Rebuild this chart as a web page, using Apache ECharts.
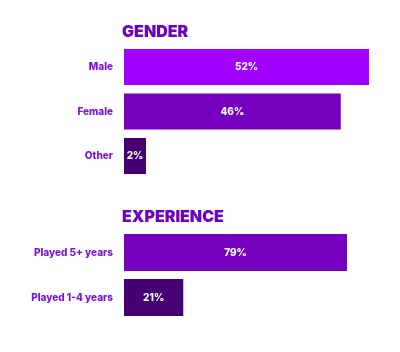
<!DOCTYPE html>
<html>
<head>
    <meta charset="utf-8">
    <title>Gender / Experience</title>
    <script src="https://cdn.jsdelivr.net/npm/echarts@6/dist/echarts.min.js"></script>
    <style>
        html, body { margin: 0; padding: 0; background: #fff; }
    </style>
</head>
<body>
    <div id="main" style="width: 400px;height:352px;"></div>
    <script type="text/javascript">
        var chart = echarts.init(document.getElementById('main'));

        // data
        var genderCats = ['Male', 'Female', 'Other'];
        var genderVals = [52, 46, 2];
        var genderColors = ['#a100ff', '#7500c0', '#460073'];

        var expCats = ['Played 5+ years', 'Played 1-4 years'];
        var expVals = [79, 21];
        var expColors = ['#7500c0', '#460073'];

        var font = 'Inter, "Noto Sans", sans-serif';
        var labelColor = '#7e12d8';
        var titleColor = '#6e00c2';

        function coloredData(vals, colors) {
            return vals.map(function (v, i) {
                return { value: v, itemStyle: { color: colors[i] } };
            });
        }

        function catAxis(cats, gridIndex) {
            return {
                type: 'category',
                gridIndex: gridIndex,
                data: cats,
                inverse: true,
                axisLine: { show: false },
                axisTick: { show: false },
                axisLabel: {
                    margin: 11,
                    color: labelColor,
                    fontFamily: font,
                    fontWeight: 800,
                    fontSize: 10
                }
            };
        }

        function valAxis(max, gridIndex) {
            return {
                type: 'value',
                gridIndex: gridIndex,
                min: 0,
                max: max,
                show: false,
                splitLine: { show: false }
            };
        }

        var barLabel = {
            show: true,
            position: 'inside',
            color: '#fff',
            fontFamily: font,
            fontWeight: 800,
            fontSize: 10,
            formatter: '{c}%'
        };

        var titleStyle = { color: titleColor, fontFamily: font, fontWeight: 900, fontSize: 16 };

        var option = {
            animation: false,
            title: [
                { text: 'GENDER', left: 117, top: 19, textStyle: titleStyle },
                { text: 'EXPERIENCE', left: 117, top: 204, textStyle: titleStyle }
            ],
            grid: [
                { left: 124, top: 44.75, width: 245, height: 133.5 },
                { left: 124, top: 230, width: 223, height: 90 }
            ],
            xAxis: [valAxis(52, 0), valAxis(79, 1)],
            yAxis: [catAxis(genderCats, 0), catAxis(expCats, 1)],
            series: [
                {
                    type: 'bar',
                    xAxisIndex: 0, yAxisIndex: 0,
                    barWidth: 36,
                    barMinHeight: 22,
                    data: coloredData(genderVals, genderColors),
                    label: barLabel
                },
                {
                    type: 'bar',
                    xAxisIndex: 1, yAxisIndex: 1,
                    barWidth: 37,
                    data: coloredData(expVals, expColors),
                    label: barLabel
                }
            ]
        };

        chart.setOption(option);
    </script>
</body>
</html>
